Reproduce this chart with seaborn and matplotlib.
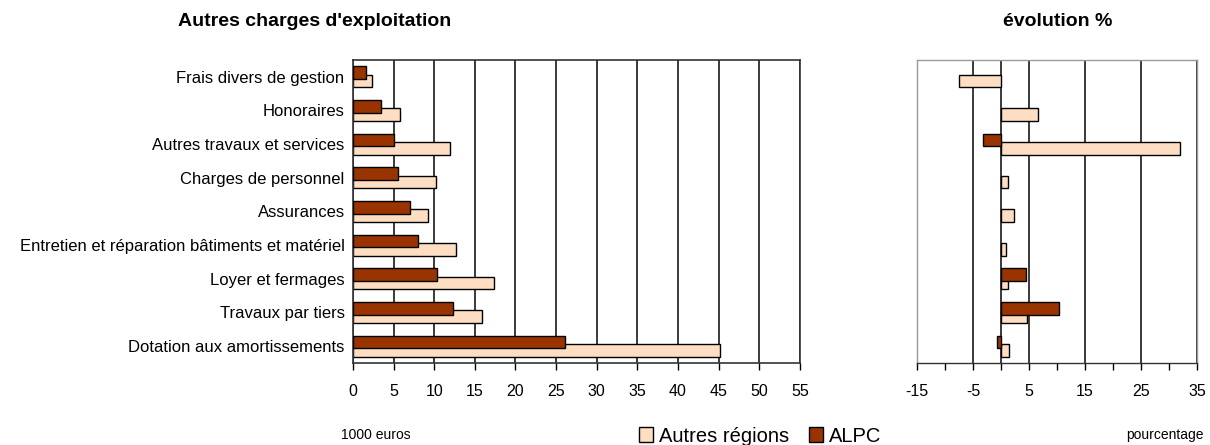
import numpy as np
import pandas as pd
import matplotlib
matplotlib.use("Agg")
import matplotlib.pyplot as plt
from matplotlib.patches import Patch
from matplotlib.ticker import MultipleLocator
import seaborn as sns

# data
categories = [
    "Frais divers de gestion",
    "Honoraires",
    "Autres travaux et services",
    "Charges de personnel",
    "Assurances",
    "Entretien et réparation bâtiments et matériel",
    "Loyer et fermages",
    "Travaux par tiers",
    "Dotation aux amortissements",
]
alpc_value = [1.6, 3.5, 5.1, 5.5, 7.0, 8.0, 10.4, 12.3, 26.1]
autres_value = [2.3, 5.8, 11.9, 10.2, 9.2, 12.7, 17.4, 15.9, 45.2]
alpc_evol = [0.0, 0.0, -3.2, 0.0, 0.0, 0.0, 4.4, 10.3, -0.8]
autres_evol = [-7.5, 6.6, 32.0, 1.3, 2.4, 0.9, 1.3, 4.6, 1.5]

series = ["ALPC", "Autres régions"]
colors = {"ALPC": "#993300", "Autres régions": "#FDDEC2"}

df = pd.DataFrame({
    "categorie": categories * 2,
    "serie": ["ALPC"] * len(categories) + ["Autres régions"] * len(categories),
    "valeur": alpc_value + autres_value,
    "evolution": alpc_evol + autres_evol,
})

sns.set_style("white")
plt.rcParams["font.family"] = ["Liberation Sans", "DejaVu Sans"]
plt.rcParams["axes.unicode_minus"] = False
plt.rcParams["text.color"] = "black"
plt.rcParams["xtick.color"] = "black"
plt.rcParams["ytick.color"] = "black"

fig = plt.figure(figsize=(12.1, 4.45), dpi=100)
ax1 = fig.add_axes([0.2917, 0.1843, 0.3694, 0.681])
ax2 = fig.add_axes([0.7579, 0.1843, 0.2314, 0.681])


def draw_bars(ax, col):
    sns.barplot(data=df, x=col, y="categorie", hue="serie", hue_order=series,
                order=categories, palette=colors, orient="h", width=0.75,
                edgecolor="black", linewidth=1.0, saturation=1, legend=False,
                ax=ax)
    # Excel-style overlap: pull the two bars of each slot closer together
    for p in ax.patches:
        cy = p.get_y() + p.get_height() / 2
        slot = round(cy)
        shift = 0.0625 if cy < slot else -0.0625
        p.set_y(p.get_y() + shift)
        is_alpc = np.isclose(p.get_facecolor()[:3],
                             matplotlib.colors.to_rgb(colors["ALPC"])).all()
        p.set_zorder(3 if is_alpc else 2)
        if p.get_width() == 0:
            p.set_visible(False)


draw_bars(ax1, "valeur")
draw_bars(ax2, "evolution")

# left panel
ax1.set_xlim(0, 55)
ax1.set_ylim(len(categories) - 0.5, -0.5)
ax1.xaxis.set_major_locator(MultipleLocator(5))
ax1.grid(axis="x", color="#2b2b2b", linewidth=1.3, zorder=0)
ax1.set_axisbelow(True)
ax1.set_xlabel("")
ax1.set_ylabel("")
ax1.tick_params(axis="y", labelsize=12, length=0, pad=6)
ax1.tick_params(axis="x", labelsize=11.5, direction="out", length=5,
                width=1, color="black", bottom=True, pad=10)
for s in ax1.spines.values():
    s.set_color("#333333")
    s.set_linewidth(1.2)

# right panel
ax2.set_xlim(-15, 35)
ax2.set_ylim(len(categories) - 0.5, -0.5)
ax2.set_xticks(np.arange(-15, 36, 10))
ax2.xaxis.set_minor_locator(MultipleLocator(5))
ax2.grid(axis="x", which="major", color="#2b2b2b", linewidth=1.3, zorder=0)
ax2.set_axisbelow(True)
ax2.axvline(0, color="#2b2b2b", linewidth=1.3, zorder=1)
ax2.set_xlabel("")
ax2.set_ylabel("")
ax2.set_yticks([])
ax2.tick_params(axis="x", which="both", labelsize=11.5, direction="out",
                length=5, width=1, color="black", bottom=True, pad=10)
for s in ax2.spines.values():
    s.set_color("#9a9a9a")
    s.set_linewidth(1.0)
ax2.spines["bottom"].set_color("#333333")

# titles and notes
fig.text(315 / 1210, 1 - 22 / 445, "Autres charges d'exploitation",
         ha="center", va="center", fontsize=14, fontweight="bold")
fig.text(1058 / 1210, 1 - 22 / 445, "évolution %",
         ha="center", va="center", fontsize=14, fontweight="bold")
fig.text(376 / 1210, 1 - 435 / 445, "1000 euros", ha="center", va="center",
         fontsize=10)
fig.text(1165 / 1210, 1 - 435 / 445, "pourcentage", ha="center", va="center",
         fontsize=10)

handles = [Patch(facecolor=colors["Autres régions"], edgecolor="black",
                 label="Autres régions"),
           Patch(facecolor=colors["ALPC"], edgecolor="black", label="ALPC")]
fig.legend(handles=handles, loc="center", bbox_to_anchor=(760 / 1210, 1 - 436 / 445),
           ncol=2, frameon=False, fontsize=14.5, handlelength=0.7,
           handleheight=0.7, handletextpad=0.3, columnspacing=1.0)

fig.savefig("out.png", dpi=100)
